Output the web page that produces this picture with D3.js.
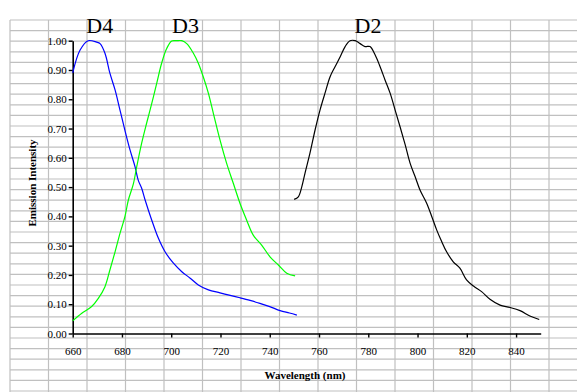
<!DOCTYPE html>
<html>
<head>
<meta charset="utf-8">
<script src="https://cdn.jsdelivr.net/npm/d3@7"></script>
<style>
  body { margin: 0; background: #fff; }
  svg { display: block; }
  .axis path, .axis line { stroke: #000; }
</style>
</head>
<body>
<div id="chart-area"></div>
<script>
// Data (wavelength in nm, normalised intensity)
let d4Wave = [660, 663, 666.3, 669.7, 671.1, 673.1, 675.1, 677.2, 679.2, 681.2, 683.3, 685.3, 686.6, 688, 689.4, 692.1, 694.8, 697.5, 700.9, 704.3, 707.7, 711, 715.1, 719.8, 723.5, 727.9, 732, 736, 740, 744.2, 748, 751];
let d4Value = [0.89, 0.968, 1.0, 0.995, 0.99, 0.957, 0.889, 0.832, 0.763, 0.694, 0.626, 0.57, 0.524, 0.496, 0.456, 0.387, 0.325, 0.279, 0.24, 0.211, 0.189, 0.166, 0.149, 0.139, 0.131, 0.122, 0.113, 0.103, 0.092, 0.078, 0.07, 0.063];

let d3Wave = [660, 663.7, 667.7, 670.4, 673.1, 675.1, 677.2, 679.2, 681.2, 682.6, 684.6, 686, 688, 690, 692.1, 694.1, 696.1, 698.2, 700.2, 702.2, 704.3, 706.3, 709, 711, 713, 715.1, 717.1, 719.8, 722.5, 725.2, 727.9, 730.6, 733.3, 736.7, 740.1, 743.5, 746.9, 750.3];
let d3Value = [0.043, 0.069, 0.092, 0.12, 0.16, 0.217, 0.279, 0.342, 0.399, 0.456, 0.51, 0.57, 0.65, 0.718, 0.786, 0.854, 0.923, 0.974, 0.999, 1.0, 1.0, 0.99, 0.957, 0.923, 0.877, 0.82, 0.752, 0.661, 0.581, 0.513, 0.445, 0.388, 0.336, 0.302, 0.262, 0.234, 0.206, 0.197];

let d2Wave = [749.9, 751.6, 753, 754.3, 756.3, 758.4, 760.4, 762.4, 764.5, 766.5, 768.6, 770.6, 772.6, 774.7, 776.7, 778.7, 780.7, 782.8, 784.8, 786.8, 788.9, 790.9, 792.9, 795, 797, 799, 801, 803.7, 805.8, 807.8, 809.8, 811.8, 814.5, 817.2, 819.9, 822.7, 826, 829.4, 833.5, 837.5, 841.6, 845.6, 849.4];
let d2Value = [0.458, 0.467, 0.501, 0.547, 0.615, 0.695, 0.763, 0.82, 0.877, 0.911, 0.945, 0.98, 1.0, 1.0, 0.99, 0.98, 0.98, 0.951, 0.911, 0.866, 0.82, 0.763, 0.706, 0.644, 0.581, 0.536, 0.49, 0.445, 0.399, 0.353, 0.314, 0.279, 0.245, 0.223, 0.183, 0.162, 0.143, 0.117, 0.097, 0.089, 0.078, 0.06, 0.048];

let seriesNames = ['D4', 'D3', 'D2'];
let seriesColors = ['#0000ff', '#00ff00', '#000000'];
let labelWave = [671, 705.8, 779.9];
let labelValue = [1.026, 1.026, 1.026];

let xTicks = [660, 680, 700, 720, 740, 760, 780, 800, 820, 840];
let yTicks = [0, 0.1, 0.2, 0.3, 0.4, 0.5, 0.6, 0.7, 0.8, 0.9, 1.0];

let serif = 'Liberation Serif, Times New Roman, serif';
let svgWidth = 577;
let svgHeight = 392;

let svg = d3.select('#chart-area')
    .append('svg')
        .attr('width', svgWidth)
        .attr('height', svgHeight);

// Spreadsheet cell grid behind the chart
let grid = svg.append('g').attr('stroke', '#c0c0c0').attr('stroke-width', 1.2);
for (let gx = 10; gx < svgWidth; gx += 38.5) {
    grid.append('line').attr('x1', gx).attr('x2', gx).attr('y1', 20).attr('y2', svgHeight);
}
for (let gy = 20; gy < svgHeight; gy += 10.6) {
    grid.append('line').attr('x1', 10).attr('x2', svgWidth).attr('y1', gy).attr('y2', gy);
}

// Scales
let x = d3.scaleLinear().domain([660, 850]).range([72.7, 540.7]);
let y = d3.scaleLinear().domain([0, 1]).range([333.5, 40.7]);

// Axes
let yAxisCall = d3.axisLeft(y)
    .tickValues(yTicks)
    .tickFormat(d3.format('.2f'))
    .tickSize(4)
    .tickSizeOuter(0)
    .tickPadding(2);
svg.append('g')
    .attr('class', 'y axis')
    .attr('transform', 'translate(' + x(660) + ',0)')
    .call(yAxisCall);

let xAxisCall = d3.axisBottom(x)
    .tickValues(xTicks)
    .tickFormat(d3.format('d'))
    .tickSize(4)
    .tickSizeOuter(0)
    .tickPadding(10);
svg.append('g')
    .attr('class', 'x axis')
    .attr('transform', 'translate(0,' + y(0) + ')')
    .call(xAxisCall);

svg.selectAll('.axis')
    .attr('font-family', serif)
    .attr('font-size', 11);
svg.selectAll('.axis text')
    .style('font-family', serif)
    .style('font-size', '11px')
    .attr('fill', '#000');
svg.selectAll('.axis path').attr('stroke-width', 1.6);
svg.selectAll('.axis line').attr('stroke-width', 1.4);

// Lines
let line = d3.line()
    .curve(d3.curveCatmullRom)
    .x(function(d){ return x(d[0]); })
    .y(function(d){ return y(d[1]); });

let allWaves = [d4Wave, d3Wave, d2Wave];
let allValues = [d4Value, d3Value, d2Value];

seriesNames.forEach(function(name, i){
    let pts = allWaves[i].map(function(w, j){ return [w, allValues[i][j]]; });
    svg.append('path')
        .datum(pts)
        .attr('fill', 'none')
        .attr('stroke', seriesColors[i])
        .attr('stroke-width', 1.2)
        .attr('d', line);

    svg.append('text')
        .attr('x', x(labelWave[i]))
        .attr('y', y(labelValue[i]))
        .attr('text-anchor', 'middle')
        .style('font-family', serif)
        .style('font-size', '22px')
        .attr('fill', '#000')
        .text(name);
});

// Axis titles
svg.append('text')
    .attr('x', 305)
    .attr('y', 379)
    .attr('text-anchor', 'middle')
    .style('font-family', serif)
    .style('font-size', '11px')
    .style('font-weight', 'bold')
    .text('Wavelength (nm)');

svg.append('text')
    .attr('transform', 'translate(36,183) rotate(-90)')
    .attr('text-anchor', 'middle')
    .style('font-family', serif)
    .style('font-size', '11px')
    .style('font-weight', 'bold')
    .text('Emission Intensity');
</script>
</body>
</html>
